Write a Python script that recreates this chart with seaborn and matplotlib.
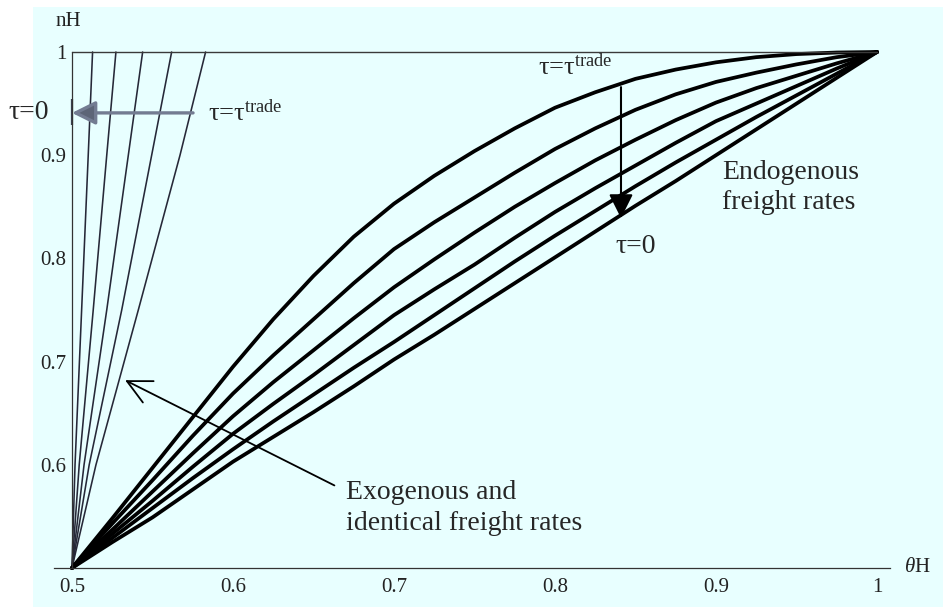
import matplotlib
matplotlib.use("Agg")
import matplotlib.pyplot as plt
import seaborn as sns
from matplotlib.patches import Rectangle

# theta_H grid for the endogenous freight-rate curves
theta = [0.5, 0.525, 0.55, 0.575, 0.6, 0.625, 0.65, 0.675, 0.7, 0.725, 0.75,
         0.775, 0.8, 0.825, 0.85, 0.875, 0.9, 0.925, 0.95, 0.975, 1.0]
endo_1 = [0.5, 0.548, 0.597, 0.646, 0.695, 0.741, 0.783, 0.821, 0.853, 0.880, 0.904,
          0.926, 0.946, 0.961, 0.974, 0.983, 0.990, 0.995, 0.998, 0.9995, 1.0]
endo_2 = [0.5, 0.543, 0.585, 0.628, 0.669, 0.706, 0.741, 0.776, 0.809, 0.835, 0.859,
          0.883, 0.906, 0.926, 0.944, 0.959, 0.971, 0.980, 0.988, 0.995, 1.0]
endo_3 = [0.5, 0.537, 0.574, 0.611, 0.647, 0.680, 0.711, 0.742, 0.772, 0.799, 0.825,
          0.850, 0.873, 0.895, 0.915, 0.934, 0.951, 0.965, 0.977, 0.989, 1.0]
endo_4 = [0.5, 0.533, 0.565, 0.598, 0.630, 0.659, 0.687, 0.716, 0.745, 0.770, 0.794,
          0.820, 0.845, 0.868, 0.890, 0.912, 0.933, 0.950, 0.967, 0.984, 1.0]
endo_5 = [0.5, 0.529, 0.558, 0.587, 0.615, 0.642, 0.668, 0.694, 0.719, 0.745, 0.771,
          0.797, 0.822, 0.846, 0.870, 0.893, 0.915, 0.937, 0.958, 0.979, 1.0]
endo_6 = [0.5, 0.525, 0.549, 0.576, 0.603, 0.627, 0.651, 0.676, 0.702, 0.726, 0.751,
          0.776, 0.801, 0.826, 0.851, 0.875, 0.900, 0.925, 0.950, 0.975, 1.0]

# exogenous / identical freight rates: theta_H at given nH levels
nh_exo = [0.5, 0.6, 0.75, 0.9, 1.0]
exo_1 = [0.5, 0.5019, 0.5060, 0.5101, 0.5128]
exo_2 = [0.5, 0.5045, 0.5132, 0.5216, 0.5273]
exo_3 = [0.5, 0.5075, 0.5216, 0.5350, 0.5439]
exo_4 = [0.5, 0.5107, 0.5309, 0.5495, 0.5619]
exo_5 = [0.5, 0.5149, 0.5412, 0.5671, 0.5830]

x_ticks = [0.5, 0.6, 0.7, 0.8, 0.9, 1.0]
x_labels = ["0.5", "0.6", "0.7", "0.8", "0.9", "1"]
y_ticks = [0.6, 0.7, 0.8, 0.9, 1.0]
y_labels = ["0.6", "0.7", "0.8", "0.9", "1"]

sns.set_theme(style="white")
plt.rcParams["font.family"] = ["Liberation Serif", "DejaVu Serif"]
plt.rcParams["mathtext.fontset"] = "custom"
plt.rcParams["mathtext.rm"] = "Liberation Serif"
plt.rcParams["mathtext.it"] = "Liberation Serif:italic"

fig = plt.figure(figsize=(9.43, 6.07), dpi=100, facecolor="white")
fig.patches.append(Rectangle((33 / 943, 0), 1, 600 / 607, transform=fig.transFigure,
                             facecolor="#e8ffff", edgecolor="none", zorder=-10))
ax = fig.add_axes([0, 0, 1, 1])
ax.set_facecolor("none")

thin = "#262838"
for xs in [exo_1, exo_2, exo_3, exo_4, exo_5]:
    sns.lineplot(x=xs, y=nh_exo, sort=False, estimator=None, color=thin, lw=1.15, ax=ax)

for ys in [endo_1, endo_2, endo_3, endo_4, endo_5, endo_6]:
    sns.lineplot(x=theta, y=ys, sort=False, estimator=None, color="black", lw=2.7, ax=ax)

# upper bound nH = 1
sns.lineplot(x=[0.5, 1.0], y=[1.0, 1.0], color="#3a3a3a", lw=1.0, ax=ax)

ax.set_xlim(0.4553, 1.041)
ax.set_ylim(0.4622, 1.0504)

for s in ["top", "right"]:
    ax.spines[s].set_visible(False)
ax.spines["left"].set_position(("data", 0.5))
ax.spines["left"].set_bounds(0.5, 1.0)
ax.spines["bottom"].set_position(("data", 0.5))
ax.spines["bottom"].set_bounds(0.489, 1.008)
for s in ["left", "bottom"]:
    ax.spines[s].set_color("#333333")
    ax.spines[s].set_linewidth(0.9)

ax.set_xticks(x_ticks)
ax.set_xticklabels(x_labels)
ax.set_yticks(y_ticks)
ax.set_yticklabels(y_labels)
ax.tick_params(axis="x", direction="in", length=5, width=0.8, color="#333333",
               pad=7, labelsize=15, labelcolor="#222222")
ax.tick_params(axis="y", direction="in", length=5, width=0.8, color="#333333",
               pad=4, labelsize=15, labelcolor="#222222")
ax.set_xlabel("")
ax.set_ylabel("")

ax.text(0.4975, 1.030, "nH", fontsize=15, ha="center", va="center", color="#222222")
ax.text(1.025, 0.5, r"$\theta$H", fontsize=15, ha="center", va="center", color="#222222")

# grey arrow across the exogenous lines
ax.annotate("", xy=(0.5, 0.941), xytext=(0.5752, 0.941),
            arrowprops=dict(arrowstyle="-|>", ec="#737c92", fc="#5d6577", lw=2.4,
                            mutation_scale=36, shrinkA=0, shrinkB=0))
ax.vlines(0.5, 0.929, 0.954, color="#3a4050", lw=1.6)
ax.text(0.473, 0.941, "τ=0", fontsize=20, ha="center", va="center")
ax.text(0.5845, 0.941, r"τ=τ$^{\mathrm{trade}}$", fontsize=19, ha="left", va="center")

# black arrow across the endogenous curves
ax.annotate("", xy=(0.841, 0.839), xytext=(0.841, 0.966),
            arrowprops=dict(arrowstyle="-|>", color="black", lw=1.5,
                            mutation_scale=37, shrinkA=0, shrinkB=0))
ax.text(0.7895, 0.978, r"τ=τ$^{\mathrm{trade}}$", fontsize=19, ha="left", va="baseline")
ax.text(0.850, 0.812, "τ=0", fontsize=20, ha="center", va="center")
ax.text(0.904, 0.8687, "Endogenous\nfreight rates", fontsize=20, ha="left", va="center",
        linespacing=1.3)

# pointer to the exogenous lines
ax.annotate("", xy=(0.533, 0.682), xytext=(0.663, 0.580),
            arrowprops=dict(arrowstyle="->", color="black", lw=1.3,
                            mutation_scale=43, shrinkA=0, shrinkB=0))
ax.text(0.670, 0.558, "Exogenous and\nidentical freight rates", fontsize=20,
        ha="left", va="center", linespacing=1.3)

fig.savefig("out.png", dpi=100)
